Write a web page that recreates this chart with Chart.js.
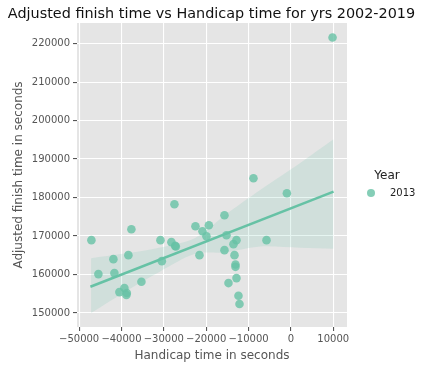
<!DOCTYPE html>
<html>
<head>
<meta charset="utf-8">
<script src="https://cdn.jsdelivr.net/npm/chart.js@4.4.0/dist/chart.umd.min.js"></script>
<style>
  html, body { margin: 0; padding: 0; background: #fff; }
  #chart { display: block; }
</style>
</head>
<body>
<canvas id="chart" width="423" height="369"></canvas>
<script>
// values
const handicapX = [
  -47100, -45450, -41910, -41670, -40490, -39310, -38740, -38840, -38370, -37660,
  -35290, -30800, -30470, -28210, -27500, -27330, -27170, -22540, -21590, -20880,
  -19940, -19370, -15690, -15690, -15210, -14740, -13560, -12850, -13320, -13090,
  -13090, -12850, -12380, -12140, -8840, -5760, -950, 9830
];
const finishY = [
  168930, 160110, 164000, 160370, 155440, 156480, 155190, 154670, 165040, 171780,
  158110, 168930, 163480, 168410, 178260, 167450, 167270, 172560, 165040, 171260,
  169960, 172820, 175410, 166330, 170220, 157780, 167890, 168930, 165040, 162600,
  162000, 159070, 154490, 152330, 185000, 168930, 181110, 221560
];

// regression line end points
const fitX = [-47340, 10070];
const fitY = [156820, 181530];

// confidence band outline
const bandX = [-47180, -37970, -30870, -22610, -15520, -7250, 2200, 10060];
const bandUpper = [164260, 165630, 167030, 169520, 175490, 181970, 188970, 195110];
const bandLower = [150000, 156300, 160810, 165370, 165760, 167270, 166930, 166670];

const xTicks = [-50000, -40000, -30000, -20000, -10000, 0, 10000];
const yTicks = [150000, 160000, 170000, 180000, 190000, 200000, 210000, 220000];
const titleText = "Adjusted finish time vs Handicap time for yrs 2002-2019";
const legendTitle = "Year";
const legendLabel = "2013";

const teal = "#66c2a5";
const font = "DejaVu Sans";

const toXY = (xs, ys) => xs.map((x, i) => ({ x: x, y: ys[i] }));

// grey panel behind the plot
const panelBg = {
  id: "panelBg",
  beforeDraw(chart) {
    const { ctx, chartArea: a } = chart;
    ctx.save();
    ctx.fillStyle = "#e5e5e5";
    ctx.fillRect(a.left, a.top, a.right - a.left, a.bottom - a.top);
    ctx.restore();
  },
};

// title across the whole figure, and the legend on the right
const figureText = {
  id: "figureText",
  afterDraw(chart) {
    const ctx = chart.ctx;
    ctx.save();
    ctx.fillStyle = "#111";
    ctx.font = "14.4px '" + font + "'";
    ctx.textAlign = "center";
    ctx.textBaseline = "alphabetic";
    ctx.fillText(titleText, 211.5, 18);

    ctx.fillStyle = "#222";
    ctx.font = "12px '" + font + "'";
    ctx.textBaseline = "middle";
    ctx.fillText(legendTitle, 387, 176);
    ctx.beginPath();
    ctx.arc(371, 193, 4, 0, Math.PI * 2);
    ctx.fillStyle = "rgba(102,194,165,0.8)";
    ctx.fill();
    ctx.fillStyle = "#222";
    ctx.font = "10px '" + font + "'";
    ctx.textAlign = "left";
    ctx.fillText(legendLabel, 390, 193);
    ctx.restore();
  },
};

new Chart(document.getElementById("chart").getContext("2d"), {
  type: "scatter",
  data: {
    datasets: [
      {
        type: "line",
        label: "fit",
        data: toXY(fitX, fitY),
        borderColor: teal,
        borderWidth: 2.5,
        pointRadius: 0,
        fill: false,
        order: 0,
      },
      {
        label: legendLabel,
        data: toXY(handicapX, finishY),
        backgroundColor: "rgba(102,194,165,0.8)",
        borderWidth: 0,
        pointRadius: 4.3,
        order: 1,
      },
      {
        type: "line",
        label: "upper",
        data: toXY(bandX, bandUpper),
        borderWidth: 0,
        borderColor: "rgba(0,0,0,0)",
        pointRadius: 0,
        tension: 0.3,
        fill: "+1",
        backgroundColor: "rgba(102,194,165,0.16)",
        order: 2,
      },
      {
        type: "line",
        label: "lower",
        data: toXY(bandX, bandLower),
        borderWidth: 0,
        borderColor: "rgba(0,0,0,0)",
        pointRadius: 0,
        tension: 0.3,
        fill: false,
        order: 3,
      },
    ],
  },
  options: {
    responsive: false,
    animation: false,
    layout: { padding: { right: 76, left: 0, top: 23, bottom: 0 } },
    plugins: {
      legend: { display: false },
      tooltip: { enabled: false },
      title: { display: false },
    },
    scales: {
      x: {
        type: "linear",
        min: -50500,
        max: 13240,
        afterBuildTicks: (axis) => {
          axis.ticks = xTicks.map((v) => ({ value: v }));
        },
        afterFit: (axis) => { axis.height = 42; },
        border: { display: false },
        grid: { color: "#ffffff", lineWidth: 1.1, tickColor: "#555", tickLength: 4 },
        ticks: {
          color: "#555",
          padding: 2,
          maxRotation: 0,
          font: { family: font, size: 10 },
          callback: (v) => String(v).replace("-", "\u2212"),
        },
        title: {
          display: true,
          text: "Handicap time in seconds",
          color: "#555",
          font: { family: font, size: 12 },
          padding: { top: 1, bottom: 6 },
        },
      },
      y: {
        type: "linear",
        min: 146370,
        max: 225340,
        afterBuildTicks: (axis) => {
          axis.ticks = yTicks.map((v) => ({ value: v }));
        },
        afterFit: (axis) => { axis.width = 77; },
        border: { display: false },
        grid: { color: "#ffffff", lineWidth: 1.1, tickColor: "#555", tickLength: 4 },
        ticks: {
          color: "#555",
          padding: 3,
          font: { family: font, size: 10 },
          callback: (v) => String(v),
        },
        title: {
          display: true,
          text: "Adjusted finish time in seconds",
          color: "#555",
          font: { family: font, size: 12 },
          padding: { top: 12, bottom: 4 },
        },
      },
    },
  },
  plugins: [panelBg, figureText],
});
</script>
</body>
</html>
